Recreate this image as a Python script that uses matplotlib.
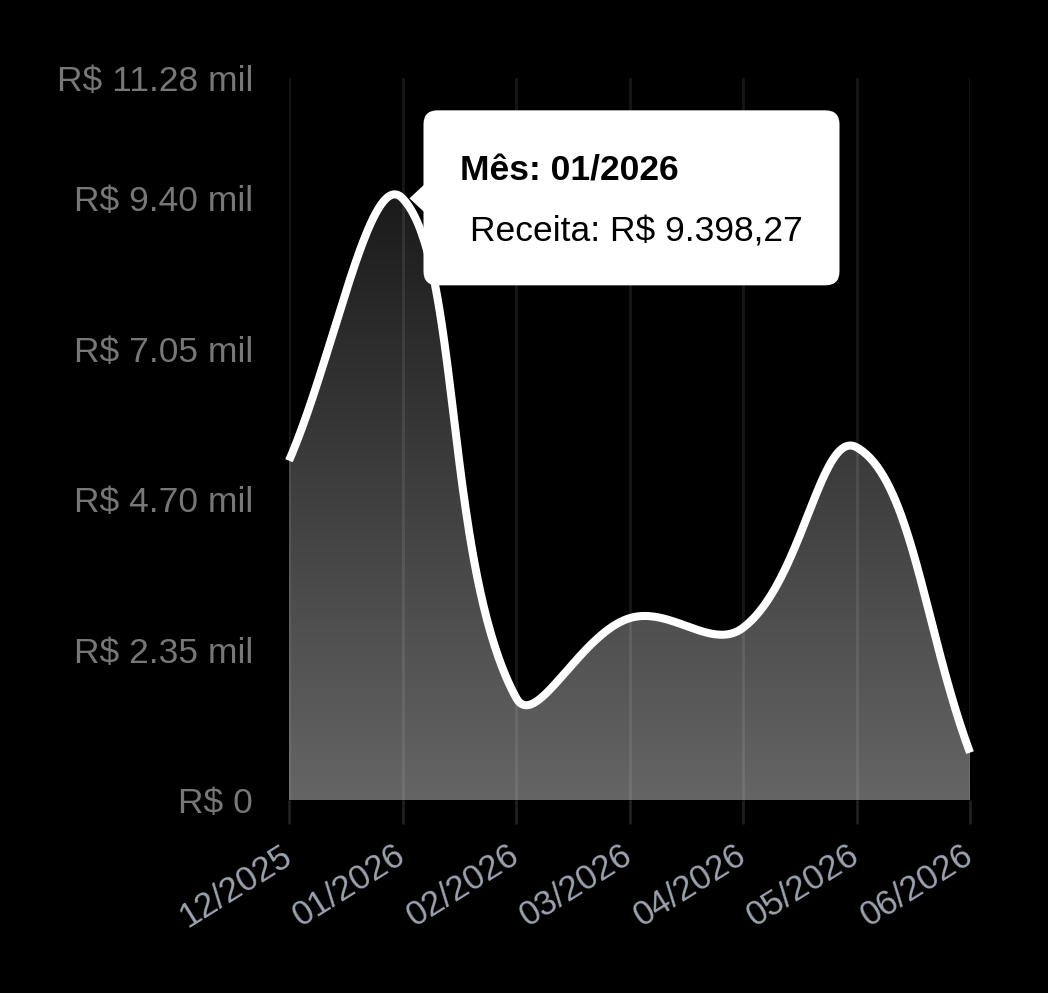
import numpy as np
import matplotlib
matplotlib.use("Agg")
import matplotlib.pyplot as plt
from matplotlib.patches import FancyBboxPatch, Polygon, PathPatch
from matplotlib.path import Path

plt.rcParams['font.family'] = ['Liberation Sans', 'DejaVu Sans']

months = ["12/2025", "01/2026", "02/2026", "03/2026", "04/2026", "05/2026", "06/2026"]
receita = [5300.0, 9398.27, 1600.0, 2840.0, 2690.0, 5510.0, 740.0]

y_max = max(receita) * 1.2
y_ticks = list(np.linspace(0, max(receita), 5)) + [y_max]


def fmt_brl(v):
    if v == 0:
        return "R$ 0"
    return "R$ %.2f mil" % (v / 1000)


W, H = 1048, 993
fig = plt.figure(figsize=(W / 100, H / 100), dpi=100, facecolor="black")
left, right, bottom, top = 289 / W, 970 / W, 1 - 800 / H, 1 - 78 / H
ax = fig.add_axes([left, bottom, right - left, top - bottom])
ax.set_facecolor("black")

x = np.arange(len(months))
ax.set_xlim(0, len(months) - 1)
ax.set_ylim(0, y_max)

# chart.js-like bezier (tension 0.4) built in pixel space
sx = (right - left) * W / (len(months) - 1)
sy = (top - bottom) * H / y_max
pts = np.column_stack([x * sx, np.array(receita) * sy])
t = 0.4
cp_prev, cp_next = [], []
n = len(pts)
for i in range(n):
    p = pts[i]
    pr = pts[i - 1] if i > 0 else p
    nx = pts[i + 1] if i < n - 1 else p
    d01 = np.hypot(*(p - pr))
    d12 = np.hypot(*(nx - p))
    s01 = d01 / (d01 + d12) if d01 + d12 else 0
    s12 = d12 / (d01 + d12) if d01 + d12 else 0
    cp_prev.append(p - t * s01 * (nx - pr))
    cp_next.append(p + t * s12 * (nx - pr))

curve = []
u = np.linspace(0, 1, 80)[:, None]
for i in range(n - 1):
    p0, p1, p2, p3 = pts[i], cp_next[i], cp_prev[i + 1], pts[i + 1]
    seg = ((1 - u) ** 3) * p0 + 3 * ((1 - u) ** 2) * u * p1 + 3 * (1 - u) * u ** 2 * p2 + u ** 3 * p3
    curve.append(seg if i == 0 else seg[1:])
curve = np.vstack(curve)
cx = curve[:, 0] / sx
cy = curve[:, 1] / sy

# gradient fill clipped to area under curve (lighter at the bottom)
img = np.ones((256, 2, 4))
img[..., 3] = np.linspace(0.4, 0.05, 256)[:, None]
im = ax.imshow(img, extent=[0, len(months) - 1, 0, y_max], origin="lower",
               aspect="auto", zorder=1, interpolation="bilinear")
verts = np.vstack([[cx[0], 0], np.column_stack([cx, cy]), [cx[-1], 0]])
clip = PathPatch(Path(verts), transform=ax.transData, facecolor="none", edgecolor="none")
ax.add_patch(clip)
im.set_clip_path(clip)

for xi in x:
    ax.axvline(xi, color="white", alpha=0.09, lw=2, zorder=2)

ax.plot(cx, cy, color="white", lw=5.8, solid_capstyle="butt", zorder=3, clip_on=False)

for s in ax.spines.values():
    s.set_visible(False)

ax.set_xticks(x)
ax.set_xticklabels(months, rotation=32, ha="right", va="center", rotation_mode="anchor")
ax.tick_params(axis="x", colors="#1f1f1f", length=17, width=2, pad=21, labelsize=25,
               labelcolor="#9ca3af")
ax.set_yticks(y_ticks)
ax.set_yticklabels([fmt_brl(v) for v in y_ticks])
ax.tick_params(axis="y", length=0, pad=26, labelsize=25.5, labelcolor="#777777")

# tooltip
fig.canvas.draw()
px, py = ax.transData.transform((1, receita[1]))
bx0, by0 = px + 21, py - 87
bw, bh = 416, 175
box = FancyBboxPatch((bx0, by0), bw, bh, boxstyle="round,pad=0,rounding_size=14",
                     facecolor="white", edgecolor="none", transform=None, zorder=10)
fig.patches.append(box)
caret = Polygon([[px + 7, py], [bx0 + 1, py + 14], [bx0 + 1, py - 14]], closed=True,
                facecolor="white", edgecolor="none", transform=None, zorder=10)
fig.patches.append(caret)
fig.text((bx0 + 36) / W, (by0 + bh - 70) / H, "Mês: 01/2026", fontsize=25.5, fontweight="bold",
         color="black", zorder=11, va="baseline")
fig.text((bx0 + 46) / W, (by0 + bh - 131) / H, "Receita: R$ 9.398,27", fontsize=25.5,
         color="black", zorder=11, va="baseline")

fig.savefig("out.png", dpi=100, facecolor="black")
